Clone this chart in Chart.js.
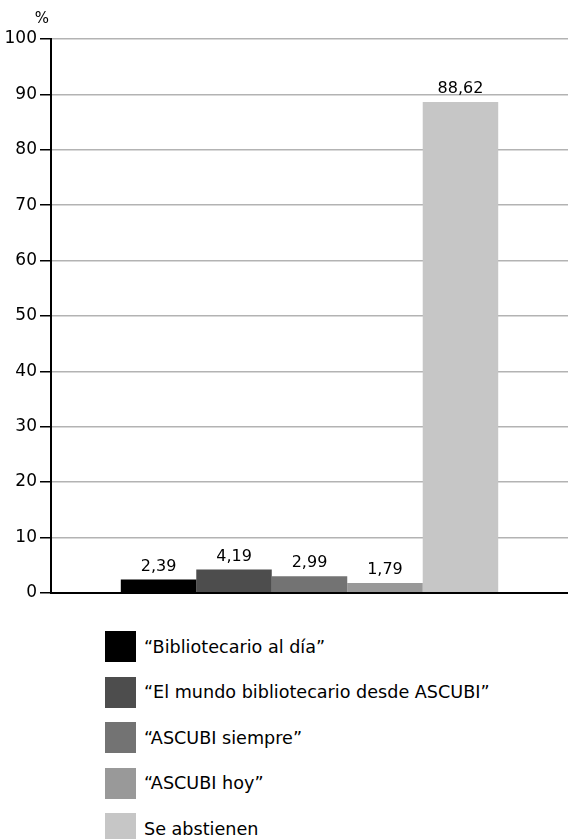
<!DOCTYPE html>
<html>
<head>
<meta charset="utf-8">
<script src="https://cdn.jsdelivr.net/npm/chart.js@4"></script>
<style>
  body { margin: 0; background: #fff; font-family: "DejaVu Sans", sans-serif; }
  #wrap { position: relative; width: 568px; height: 839px; }
  #chart { display: block; }
  #legend { position: absolute; left: 105px; top: 631px; }
  .item { display: flex; align-items: center; height: 31px; margin-bottom: 14.5px; }
  .box { width: 31px; height: 31px; margin-right: 8px; }
  .txt { font-size: 17.6px; color: #000; }
</style>
</head>
<body>
<div id="wrap">
  <canvas id="chart" width="568" height="606"></canvas>
  <div id="legend"></div>
</div>
<script>
// datos del gráfico
const categories = ['“Bibliotecario al día”', '“El mundo bibliotecario desde ASCUBI”', '“ASCUBI siempre”', '“ASCUBI hoy”', 'Se abstienen'];
const values = [2.39, 4.19, 2.99, 1.79, 88.62];
const colors = ['#000000', '#4d4d4d', '#737373', '#999999', '#c6c6c6'];
const yTicks = [0, 10, 20, 30, 40, 50, 60, 70, 80, 90, 100];

// etiquetas de valor encima de cada barra
const valueLabels = {
  id: 'valueLabels',
  afterDatasetsDraw(chart) {
    const ctx = chart.ctx;
    ctx.save();
    ctx.font = '16px "DejaVu Sans"';
    ctx.fillStyle = '#000';
    ctx.textAlign = 'center';
    ctx.textBaseline = 'alphabetic';
    chart.data.datasets.forEach((ds, i) => {
      const bar = chart.getDatasetMeta(i).data[0];
      ctx.fillText(ds.data[0].toFixed(2).replace('.', ','), bar.x, bar.y - 9);
    });
    // símbolo % sobre el eje
    ctx.font = '15px "DejaVu Sans"';
    ctx.fillText('%', 42, 23);
    ctx.restore();
  }
};

new Chart(document.getElementById('chart'), {
  type: 'bar',
  data: {
    labels: [''],
    datasets: categories.map((c, i) => ({
      label: c,
      data: [values[i]],
      backgroundColor: colors[i],
      borderWidth: 0
    }))
  },
  options: {
    responsive: false,
    animation: false,
    layout: { padding: { top: 39, right: 0, left: 0, bottom: 0 } },
    datasets: { bar: { categoryPercentage: 0.73, barPercentage: 1 } },
    plugins: { legend: { display: false }, tooltip: { enabled: false } },
    scales: {
      x: {
        grid: { display: false },
        border: { display: true, color: '#000', width: 2 },
        ticks: { display: false },
        afterFit(scale) { scale.height = 8; }
      },
      y: {
        min: 0,
        max: 100,
        afterBuildTicks(scale) { scale.ticks = yTicks.map(v => ({ value: v })); },
        grid: { color: '#b3b3b3', lineWidth: 1.5, tickColor: '#000', tickLength: 11, tickWidth: 1.5 },
        border: { color: '#000', width: 2 },
        ticks: { color: '#000', font: { family: 'DejaVu Sans', size: 17 }, padding: 3 },
        afterFit(scale) { scale.width = 51; }
      }
    }
  },
  plugins: [valueLabels]
});

// leyenda vertical
const legend = document.getElementById('legend');
categories.forEach((c, i) => {
  const row = document.createElement('div');
  row.className = 'item';
  row.innerHTML = '<div class="box" style="background:' + colors[i] + '"></div><span class="txt"></span>';
  row.querySelector('.txt').textContent = c;
  legend.appendChild(row);
});
</script>
</body>
</html>
